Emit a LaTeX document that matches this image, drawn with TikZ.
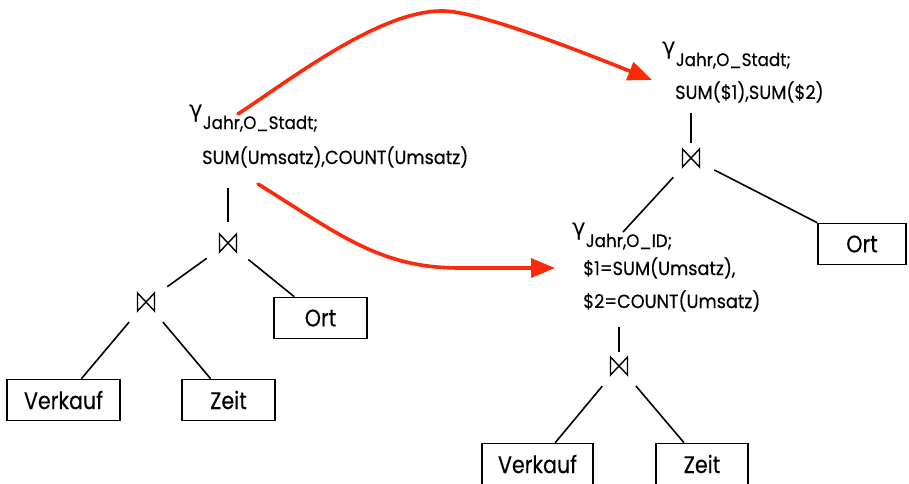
\documentclass[tikz,border=0pt]{standalone}
\usepackage{fontspec}
\setmainfont{Poppins}[FakeStretch=0.93,FakeBold=0.3]
\newfontfamily\boxfont{Poppins}[FakeStretch=0.86,FakeBold=0.3]
\newfontfamily\greekfont{DejaVu Sans}
\usetikzlibrary{arrows.meta}
\definecolor{flowred}{RGB}{250,42,10}
\newcommand{\gam}{{\greekfont\fontsize{23}{23}\selectfont γ}}
\newcommand{\subsc}[1]{\raisebox{-12pt}{\fontsize{18}{18}\selectfont #1}}
\tikzset{
  x=1pt, y=-1pt,
  rel/.style={draw, line width=1.6pt, minimum height=41pt, inner sep=0pt,
    font=\boxfont\fontsize{24}{24}\selectfont},
  joinop/.style={circle, minimum size=52pt, inner sep=0pt,
    path picture={
      \draw[line width=1.4pt]
        ([shift={(-8.5pt,-9pt)}]path picture bounding box.center) --
        ([shift={(-8.5pt,9pt)}]path picture bounding box.center) --
        ([shift={(8.5pt,-9pt)}]path picture bounding box.center) --
        ([shift={(8.5pt,9pt)}]path picture bounding box.center) -- cycle;
    }},
  edge/.style={line width=1.6pt},
  flow/.style={flowred, line width=3.6pt, line cap=round,
    -{Triangle[length=24pt,width=19pt]}},
  lab/.style={anchor=base west, inner sep=0pt,
    font=\fontsize{19}{19}\selectfont},
}
\begin{document}
\begin{tikzpicture}
\useasboundingbox (0,0) rectangle (909,483);
\fill[white] (0,0) rectangle (909,483);

% ---- left plan: aggregation over the full join ----
\node[lab] (g1) at (189,117) {\gam\subsc{Jahr,O\_Stadt;}};
\node[lab] (g1b) at (202,164) {SUM(Umsatz),COUNT(Umsatz)};
\coordinate (v1) at (228,188);
\node[joinop] (j1) at (228,243) {};
\node[joinop] (j2) at (146,302) {};
\node[rel, minimum width=93pt] (ort1) at (320.5,318) {Ort};
\node[rel, minimum width=113pt] (verk1) at (63.5,400) {Verkauf};
\node[rel, minimum width=93pt] (zeit1) at (228.5,400) {Zeit};

\draw[edge, shorten <=-5pt] (j1) -- (v1);
\draw[edge] (j1) -- (j2);
\draw[edge] (j1) -- (ort1);
\draw[edge] (j2) -- (verk1);
\draw[edge] (j2) -- (zeit1);

% ---- right plan: pre-aggregation below the join with Ort ----
\node[lab] (g2) at (662,54) {\gam\subsc{Jahr,O\_Stadt;}};
\node[lab] (g2b) at (675,99) {SUM(\$1),SUM(\$2)};
\coordinate (v2) at (691,113);
\node[joinop] (j3) at (691,158) {};
\node[rel, minimum width=88pt] (ort2) at (862,244) {Ort};

\node[lab] (g3) at (572,235) {\gam\subsc{Jahr,O\_ID;}};
\node[lab] (g3b) at (583,275) {\$1=SUM(Umsatz),};
\node[lab] (g3c) at (583,308) {\$2=COUNT(Umsatz)};
\coordinate (g3top) at (623,232);
\coordinate (v3) at (619,327);
\node[joinop] (j4) at (619,366) {};
\node[rel, minimum width=111pt] (verk2) at (537.5,464) {Verkauf};
\node[rel, minimum width=92pt] (zeit2) at (702,464) {Zeit};

\draw[edge, shorten <=-11pt] (j3) -- (v2);
\draw[edge] (j3) -- (g3top);
\draw[edge] (j3) -- (ort2.north west);
\draw[edge, shorten <=-12pt] (j4) -- (v3);
\draw[edge] (j4) -- (verk2);
\draw[edge] (j4) -- (zeit2);

% ---- rewriting arrows ----
\coordinate (a1s) at (238,114);
\coordinate (a1e) at (652,80);
\coordinate (a2s) at (258,184);
\coordinate (a2e) at (555,268);
\draw[flow] (a1s) .. controls (290,80) and (380,10) .. (443,11)
  .. controls (470,11) and (540,35) .. (a1e);
\draw[flow] (a2s) .. controls (340,235) and (380,268) .. (460,268) -- (a2e);
\end{tikzpicture}
\end{document}
